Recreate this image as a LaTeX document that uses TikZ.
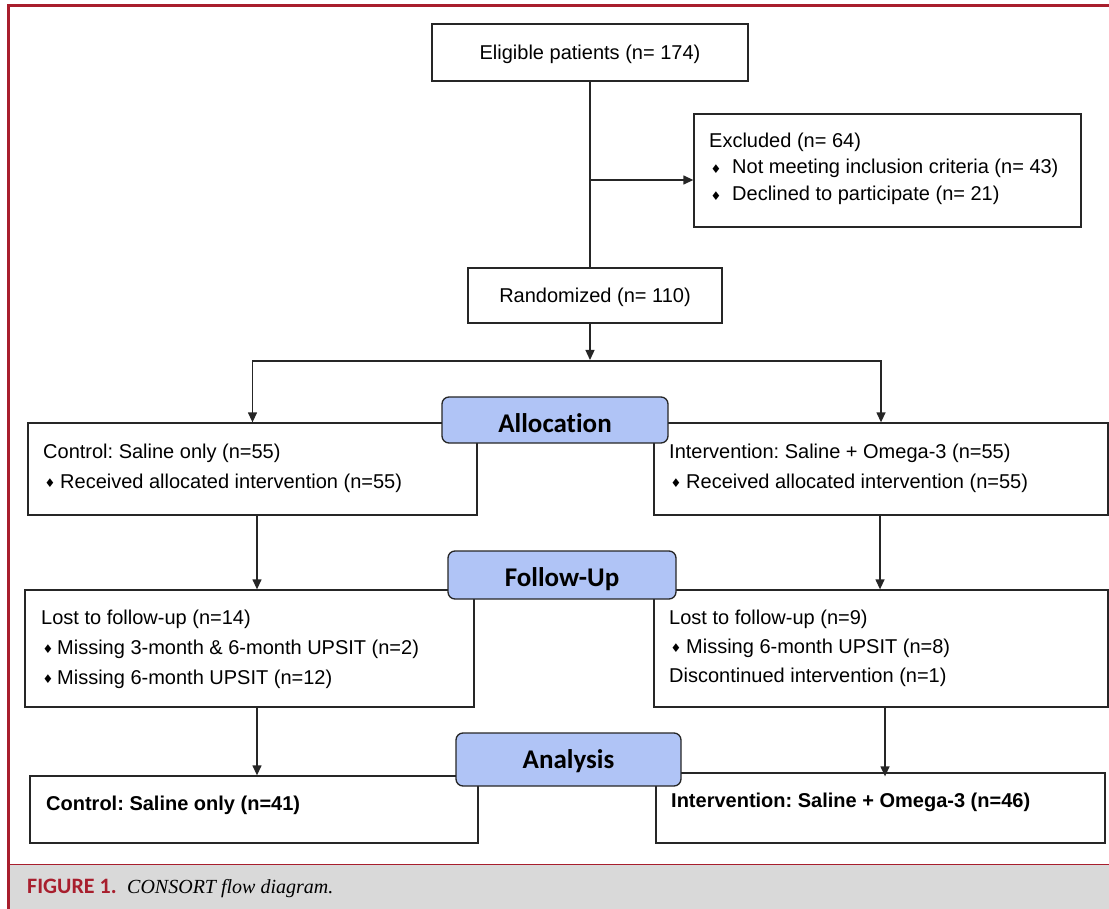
\documentclass[tikz,border=0pt]{standalone}
\usepackage{fontspec}
\setmainfont{Liberation Sans}
\newfontfamily\labfont[Ligatures=NoCommon]{Carlito}
\newfontfamily\capserif{Liberation Serif}
\newfontfamily\symfont{DejaVu Sans}
\usetikzlibrary{arrows.meta,calc}
\definecolor{framered}{HTML}{A81E2D}
\definecolor{capgray}{HTML}{D9D9D9}
\definecolor{labblue}{HTML}{B0C4F6}
\definecolor{linegray}{HTML}{262626}
\frenchspacing
\newcommand\bul[1][17]{\makebox[#1pt][l]{\hspace{1.5pt}\raisebox{0.8pt}{\symfont\fontsize{12}{12}\selectfont ♦}}}
\tikzset{
  box/.style={draw=linegray, line width=1.3pt, inner sep=0pt, fill=white},
  txt/.style={anchor=base west, inner sep=0pt, font=\fontsize{20}{24}\selectfont},
  ctxt/.style={anchor=base, inner sep=0pt, font=\fontsize{20}{24}\selectfont},
  lab/.style={draw=linegray, line width=1.3pt, fill=labblue, rounded corners=7pt, inner sep=0pt,
     font=\labfont\bfseries\fontsize{27}{30}\selectfont},
  ln/.style={draw=linegray, line width=1.3pt},
  arr/.style={ln, -{Triangle[length=10pt,width=9pt]}},
}
\begin{document}
\begin{tikzpicture}[x=1pt,y=-1pt]
\useasboundingbox (0,0) rectangle (1109,909);
% frame and caption band
\fill[capgray] (10,864) rectangle (1109,909);
\draw[framered, line width=1pt] (10,864) -- (1109,864);
\draw[framered, line width=3pt] (8.7,909) -- (8.7,5.5) -- (1109,5.5);
\node[anchor=base west, inner sep=0pt, text=framered, font=\labfont\bfseries\fontsize{22}{24}\selectfont] (figlab) at (27,893) {FIGURE 1.};
\node[anchor=base west, inner sep=0pt, font=\capserif\itshape\fontsize{20}{24}\selectfont] (figcap) at (127,893) {CONSORT flow diagram.};

% boxes
\node[box, minimum width=316pt, minimum height=57pt] (elig) at (590,52.5) {};
\node[box, minimum width=387pt, minimum height=113pt] (excl) at (887.5,170.5) {};
\node[box, minimum width=254pt, minimum height=55pt] (rand) at (595,295.5) {};
\node[box, minimum width=449pt, minimum height=92pt] (ctl) at (252.5,469) {};
\node[box, minimum width=454pt, minimum height=92pt] (int) at (881,469) {};
\node[box, minimum width=449pt, minimum height=117pt] (fuL) at (249.5,648.5) {};
\node[box, minimum width=454pt, minimum height=117pt] (fuR) at (881,648.5) {};
\node[box, minimum width=448pt, minimum height=67pt] (finL) at (254,809.5) {};
\node[box, minimum width=449pt, minimum height=70pt] (finR) at (880.5,808) {};

% texts
\node[ctxt] (elT) at (590,59.5) {Eligible patients (n= 174)};
\node[ctxt] (raT) at (595,303) {Randomized (n= 110)};
\node[txt] (exT1) at (709,148) {Excluded (n= 64)};
\node[txt] (exT2) at (709,174) {\bul[23]Not meeting inclusion criteria (n= 43)};
\node[txt] (exT3) at (709,201) {\bul[23]Declined to participate (n= 21)};

\node[txt] (ctT1) at (43,458) {Control: Saline only (n=55)};
\node[txt] (ctT2) at (43,488) {\bul[17]Received allocated intervention (n=55)};
\node[txt] (inT1) at (669,458) {Intervention: Saline + Omega-3 (n=55)};
\node[txt] (inT2) at (669,488) {\bul[17]Received allocated intervention (n=55)};

\node[txt] (flT1) at (41,624) {Lost to follow-up (n=14)};
\node[txt] (flT2) at (41,654) {\bul[16]Missing 3-month \& 6-month UPSIT (n=2)};
\node[txt] (flT3) at (41,684) {\bul[16]Missing 6-month UPSIT (n=12)};
\node[txt] (frT1) at (669,624) {Lost to follow-up (n=9)};
\node[txt] (frT2) at (669,653) {\bul[17]Missing 6-month UPSIT (n=8)};
\node[txt] (frT3) at (669,682) {Discontinued intervention (n=1)};

\node[txt, font=\bfseries\fontsize{20}{24}\selectfont] (fnT1) at (46,810) {Control: Saline only (n=41)};
\node[txt, font=\bfseries\fontsize{20}{24}\selectfont] (fnT2) at (671,807) {Intervention: Saline + Omega-3 (n=46)};

% connectors
\coordinate (br) at (590,180);
\coordinate (split) at (590,361);
\coordinate (xl) at (257,0);
\coordinate (xr) at (880,0);
\coordinate (xr2) at (885,0);
\draw[ln] (elig.south) -- (elig.south |- rand.north);
\draw[arr] (br) -- (br -| excl.west);
\draw[arr] (rand.south -| split) -- ($(split)+(0,-1)$);
\draw[arr] (split) -| (ctl.north);
\draw[arr] (split) -| (int.north);
\draw[arr] (ctl.south -| xl) -- (fuL.north -| xl);
\draw[arr] (int.south -| xr) -- (fuR.north -| xr);
\draw[arr] (fuL.south -| xl) -- (finL.north -| xl);
\draw[arr] (fuR.south -| xr2) -- ($(finR.north -| xr2)+(0,4)$);

% stage labels
\node[lab, minimum width=226pt, minimum height=46pt, text height=24pt, text depth=0pt] (alloc) at (555,420) {Allocation};
\node[lab, minimum width=228pt, minimum height=48pt, text height=23pt, text depth=0pt] (follow) at (562,575) {Follow-Up};
\node[lab, minimum width=225pt, minimum height=53pt, text height=17pt, text depth=0pt] (anal) at (568.5,759.5) {Analysis};
\end{tikzpicture}
\end{document}
